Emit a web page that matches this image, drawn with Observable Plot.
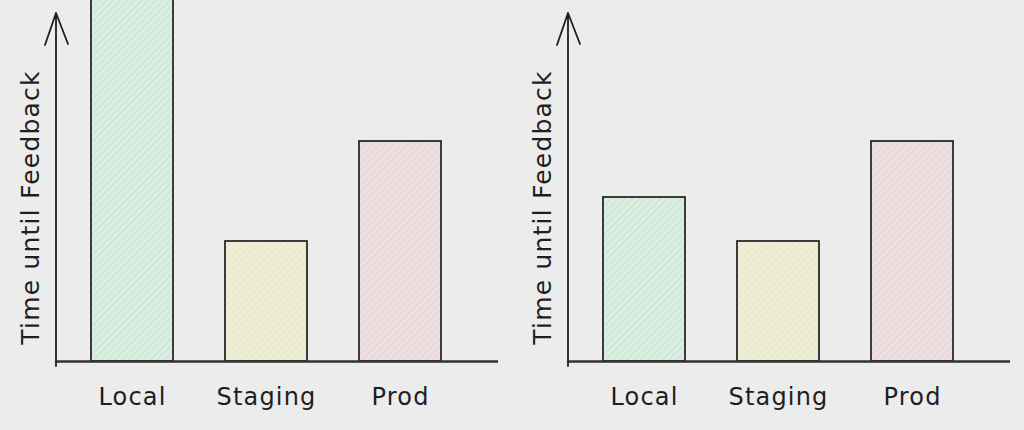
<!DOCTYPE html>
<html><head><meta charset="utf-8">
<script src="https://cdn.jsdelivr.net/npm/d3@7"></script>
<script src="https://cdn.jsdelivr.net/npm/@observablehq/plot@0.6"></script>
<style>
html,body{margin:0;padding:0;background:#ececec;}
#wrap{display:flex;width:1024px;height:430px;overflow:hidden;}
#wrap > div{width:512px;height:430px;}
</style></head><body>
<svg width="0" height="0" style="position:absolute">
  <defs>
    <pattern id="hatch-green" patternUnits="userSpaceOnUse" width="5" height="5" patternTransform="rotate(45)">
      <rect width="5" height="5" fill="#dbeee2"/>
      <line x1="0" y1="0" x2="0" y2="5" stroke="#bde1cb" stroke-width="1.6"/>
    </pattern>
    <pattern id="hatch-yellow" patternUnits="userSpaceOnUse" width="5" height="5" patternTransform="rotate(45)">
      <rect width="5" height="5" fill="#eeeed8"/>
      <line x1="0" y1="0" x2="0" y2="5" stroke="#e4e6b4" stroke-width="1.6"/>
    </pattern>
    <pattern id="hatch-pink" patternUnits="userSpaceOnUse" width="5" height="5" patternTransform="rotate(45)">
      <rect width="5" height="5" fill="#ecdfe0"/>
      <line x1="0" y1="0" x2="0" y2="5" stroke="#e8cbd0" stroke-width="1.6"/>
    </pattern>
  </defs>
</svg>
<div id="wrap"><div id="left"></div><div id="right"></div></div>
<script>
// Data
const stages = ["Local", "Staging", "Prod"];
const timeLeft = [10, 3.0, 5.5];    // Local bar runs off the top of the chart
const timeRight = [4.1, 3.0, 5.5];
const yLabel = "Time until Feedback";
const yMax = 8.7;

// Styles
const hatchFills = ["url(#hatch-green)", "url(#hatch-yellow)", "url(#hatch-pink)"];
const ink = "#1e1e1e";

function panel(values) {
  const data = stages.map((s, i) => ({stage: s, time: values[i]}));
  const plot = Plot.plot({
    width: 512, height: 430,
    marginLeft: 56, marginRight: 14, marginTop: 13, marginBottom: 69,
    style: {background: "transparent", fontFamily: "DejaVu Sans, sans-serif", color: ink, overflow: "hidden"},
    x: {domain: stages, range: [90, 441], paddingInner: 0.39, paddingOuter: 0, label: null},
    y: {domain: [0, yMax], axis: null, label: null},
    color: {domain: stages, range: hatchFills},
    marks: [
      Plot.barY(data, {x: "stage", y: "time", fill: "stage", stroke: ink, strokeWidth: 1.7}),
      Plot.ruleY([0], {stroke: "#333333", strokeWidth: 2.4}),
      Plot.axisX({tickSize: 0, tickPadding: 26, fontSize: 24, label: null}),
      Plot.text([yLabel], {text: d => d, frameAnchor: "left", textAnchor: "middle", rotate: -90, dx: -26, dy: 20, fontSize: 25, fill: ink})
    ]
  });
  // slightly wider lettering, closer to the hand-drawn original
  d3.select(plot).selectAll("text").style("letter-spacing", "1.2px");
  // y-axis arrow along the left edge of the frame
  const ys = plot.scale("y");
  const top = ys.apply(yMax), base = ys.apply(0);
  const x0 = 56;
  d3.select(plot).append("path")
    .attr("d", `M${x0},${base + 5}L${x0},${top}M${x0 - 11},${top + 32}L${x0},${top}L${x0 + 12},${top + 31}`)
    .attr("fill", "none").attr("stroke", ink).attr("stroke-width", 1.8)
    .attr("stroke-linecap", "round").attr("stroke-linejoin", "round");
  return plot;
}

document.getElementById("left").append(panel(timeLeft));
document.getElementById("right").append(panel(timeRight));
</script>
</body></html>
